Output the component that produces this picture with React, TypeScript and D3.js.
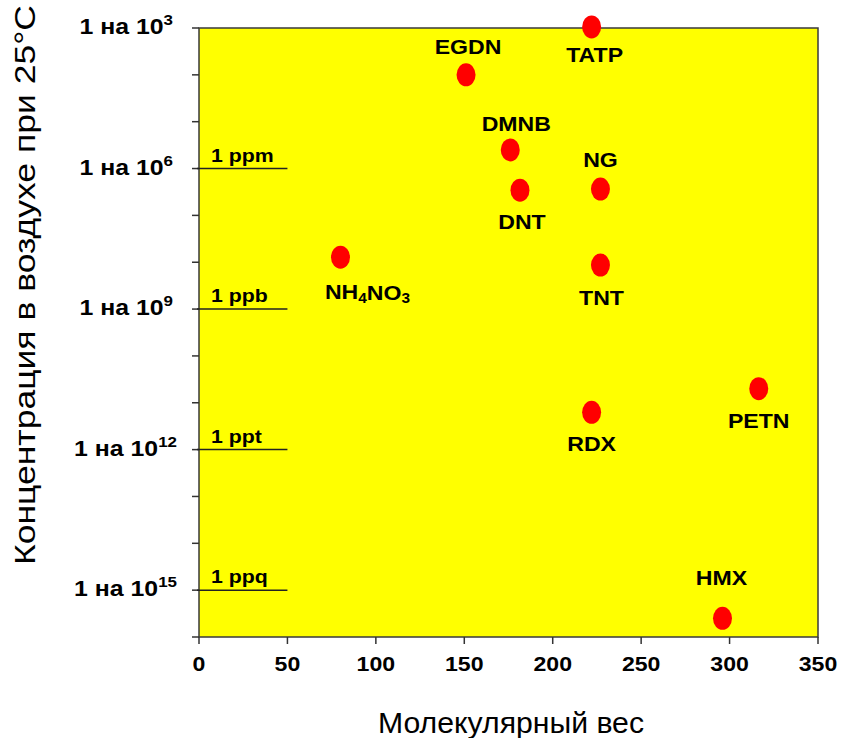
import React from 'react';
import * as d3 from 'd3';

// explosives: molecular weight vs vapour concentration (1 part in N)
const names = ['TATP', 'EGDN', 'DMNB', 'DNT', 'NG', 'TNT', 'NH4NO3', 'PETN', 'RDX', 'HMX'];
const molWeight = [222, 151, 176, 181.5, 227, 227, 80, 316.5, 222, 296];
const partsIn = [9.5e2, 1e4, 4e5, 2.9e6, 2.75e6, 1.15e8, 7.8e7, 5e10, 1.6e11, 4e15];

const xTicks = [0, 50, 100, 150, 200, 250, 300, 350];
const yLabelExps = [3, 6, 9, 12, 15];
const refLines = ['1 ppm', '1 ppb', '1 ppt', '1 ppq'];
const refValues = [1e6, 1e9, 1e12, 1e15];

// label placement for each point: [dx, dy]
const labelOffset: [number, number][] = [
  [3, 28], [2, -28], [6, -26], [2, 32], [0, -29], [1, 33], [27, 35], [0, 32], [0, 32], [-1, -40],
];

const width = 847;
const height = 738;
const left = 199;
const right = 818;
const top = 28;
const bottom = 637;

export default function App() {
  const x = d3.scaleLinear().domain([0, 350]).range([left, right]);
  const y = d3.scaleLog().domain([1e3, 1e16]).range([top, bottom]);

  const decades = d3.range(3, 17).map(e => Math.pow(10, e));
  const font = 'Arial, "Liberation Sans", sans-serif';

  return (
    <svg width={width} height={height} style={{ position: 'absolute', left: 0, top: 0, fontFamily: font }}>
      <rect x={left} y={top} width={right - left} height={bottom - top} fill="#ffff00" stroke="#3a3a3a" strokeWidth={1.5} />

      {/* y ticks */}
      {decades.map((d, i) => (
        <line key={'yt' + i} x1={left - 7} x2={left} y1={y(d)} y2={y(d)} stroke="#333" strokeWidth={1.5} />
      ))}
      {/* x ticks */}
      {xTicks.map(t => (
        <g key={'xt' + t}>
          <line x1={x(t)} x2={x(t)} y1={bottom} y2={bottom + 7} stroke="#333" strokeWidth={1.5} />
          <text transform={`translate(${x(t)},664) scale(1.1,1)`} textAnchor="middle" dominantBaseline="central" fontSize={21} fontWeight="bold">{t}</text>
        </g>
      ))}

      {/* y tick labels */}
      {yLabelExps.map(e => (
        <text key={'yl' + e} transform={`translate(${e >= 10 ? 177 : 173},${y(Math.pow(10, e)) + 6}) scale(1.13,1)`}
          textAnchor="end" fontSize={22} fontWeight="bold">
          1 на 10<tspan fontSize={15} dy={-9}>{e}</tspan>
        </text>
      ))}

      {/* reference lines */}
      {refLines.map((r, i) => (
        <g key={r}>
          <line x1={x(0) - 2} x2={x(50)} y1={y(refValues[i])} y2={y(refValues[i])} stroke="#222" strokeWidth={1.5} />
          <text transform={`translate(${x(0) + 12},${y(refValues[i]) - 7}) scale(1.12,1)`} fontSize={19} fontWeight="bold">{r}</text>
        </g>
      ))}

      {/* points */}
      {names.map((n, i) => (
        <ellipse key={'p' + n} cx={x(molWeight[i])} cy={y(partsIn[i])} rx={9.5} ry={11.5} fill="#ff0000" />
      ))}
      {names.map((n, i) => (
        <text key={'l' + n}
          transform={`translate(${x(molWeight[i]) + labelOffset[i][0]},${y(partsIn[i]) + labelOffset[i][1]}) scale(1.1,1)`}
          textAnchor="middle" dominantBaseline="central" fontSize={21} fontWeight="bold">
          {n === 'NH4NO3'
            ? <>NH<tspan fontSize={14} dy={6}>4</tspan><tspan dy={-6}>NO</tspan><tspan fontSize={14} dy={6}>3</tspan></>
            : n}
        </text>
      ))}

      {/* axis titles */}
      <text x={511} y={733} textAnchor="middle" fontSize={29} textLength={266} lengthAdjust="spacingAndGlyphs">Молекулярный вес</text>
      <text transform="translate(35,285) rotate(-90)" textAnchor="middle" fontSize={30} textLength={560} lengthAdjust="spacingAndGlyphs">Концентрация в воздухе при 25°C</text>
    </svg>
  );
}
